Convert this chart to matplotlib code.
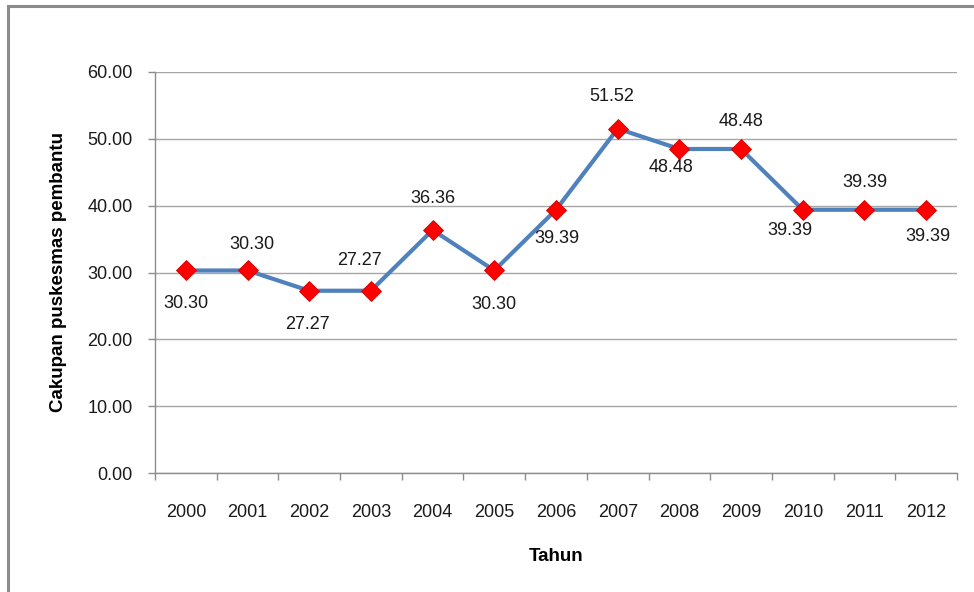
import matplotlib
matplotlib.use("Agg")
import matplotlib.pyplot as plt
from matplotlib.patches import Rectangle

plt.rcParams['font.family'] = ['Liberation Sans', 'DejaVu Sans']

years = ['2000', '2001', '2002', '2003', '2004', '2005', '2006',
         '2007', '2008', '2009', '2010', '2011', '2012']
values = [30.30, 30.30, 27.27, 27.27, 36.36, 30.30, 39.39,
          51.52, 48.48, 48.48, 39.39, 39.39, 39.39]
y_ticks = [0, 10, 20, 30, 40, 50, 60]
y_label = 'Cakupan puskesmas pembantu'
x_label = 'Tahun'

# label offsets in points (dx, dy) relative to each point
label_offsets = [(0, -24), (3, 19), (-1, -24), (-8, 22), (0, 23), (0, -24.5), (1, -21),
                 (-4, 23), (-6, -13), (0, 19.5), (-9, -15), (0, 19.5), (1, -19.5)]

fig = plt.figure(figsize=(9.74, 5.92), dpi=100)
W, H = 974, 592
# outer frame
fig.patches.append(Rectangle((8 / W, -0.05), 1.1, (592 - 6) / H + 0.05,
                             transform=fig.transFigure, fill=False,
                             edgecolor='#8c8c8c', linewidth=2.2, zorder=0))

ax = fig.add_axes([155 / W, 1 - 473 / H, (957 - 155) / W, (473 - 72) / H])
x = list(range(len(years)))
ax.plot(x, values, color='#4F81BD', linewidth=3.0, zorder=3,
        marker='D', markersize=10.5, markerfacecolor='#FF0000',
        markeredgecolor='#D00000', markeredgewidth=0.6)

for xi, v, (dx, dy) in zip(x, values, label_offsets):
    ax.annotate(f'{v:.2f}', (xi, v), xytext=(dx, dy), textcoords='offset points',
                ha='center', va='center', fontsize=13, color='#1a1a1a')

ax.set_xlim(-0.5, len(years) - 0.5)
ax.set_ylim(0, 60)
ax.set_yticks(y_ticks)
ax.set_yticklabels([f'{t:.2f}' for t in y_ticks], fontsize=13, color='#1a1a1a')
ax.set_xticks(x)
ax.set_xticklabels(years, fontsize=13, color='#1a1a1a')
ax.set_xticks([i - 0.5 for i in range(len(years) + 1)], minor=True)
ax.tick_params(axis='x', which='major', length=0, pad=22)
ax.tick_params(axis='x', which='minor', length=5, color='#8c8c8c', width=1)
ax.tick_params(axis='y', length=5, color='#8c8c8c', width=1, pad=11)
ax.grid(axis='y', color='#a6a6a6', linewidth=1)
ax.set_axisbelow(True)
for s in ['top', 'right']:
    ax.spines[s].set_visible(False)
for s in ['left', 'bottom']:
    ax.spines[s].set_color('#8c8c8c')
    ax.spines[s].set_linewidth(1)

ax.set_xlabel(x_label, fontsize=13.5, fontweight='bold', labelpad=20)
ax.set_ylabel(y_label, fontsize=13.5, fontweight='bold', labelpad=15)

fig.savefig('out.png', dpi=100)
